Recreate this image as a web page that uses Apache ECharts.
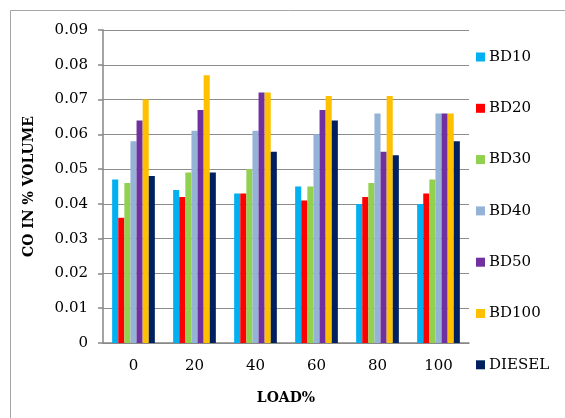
<!DOCTYPE html>
<html><head><meta charset="utf-8">
<script src="https://cdn.jsdelivr.net/npm/echarts@6/dist/echarts.min.js"></script>
<style>html,body{margin:0;padding:0;background:#fff}#c{width:565px;height:418px}</style>
</head><body><div id="c"></div>
<script>
var categories = ['0','20','40','60','80','100'];
var seriesNames = ['BD10','BD20','BD30','BD40','BD50','BD100','DIESEL'];
var BD10   = [0.047, 0.044, 0.043, 0.045, 0.040, 0.040];
var BD20   = [0.036, 0.042, 0.043, 0.041, 0.042, 0.043];
var BD30   = [0.046, 0.049, 0.050, 0.045, 0.046, 0.047];
var BD40   = [0.058, 0.061, 0.061, 0.060, 0.066, 0.066];
var BD50   = [0.064, 0.067, 0.072, 0.067, 0.055, 0.066];
var BD100  = [0.070, 0.077, 0.072, 0.071, 0.071, 0.066];
var DIESEL = [0.048, 0.049, 0.055, 0.064, 0.054, 0.058];
var yTicks = ['0','0.01','0.02','0.03','0.04','0.05','0.06','0.07','0.08','0.09'];
var colors = ['#00b0f0','#ff0000','#92d050','#95b3d7','#7030a0','#ffc000','#002060'];
var allData = [BD10, BD20, BD30, BD40, BD50, BD100, DIESEL];
var font = 'DejaVu Serif';
var chart = echarts.init(document.getElementById('c'), null, {renderer:'canvas'});
chart.setOption({
  animation:false,
  color: colors,
  graphic:[{type:'rect', shape:{x:10.5,y:10.5,width:600,height:500}, style:{fill:null, stroke:'#a6a6a6', lineWidth:1}, silent:true}],
  grid:{left:103, right:96, top:30, bottom:75},
  legend:{
    orient:'vertical', left:471, top:43,
    itemWidth:9, itemHeight:9, itemGap:33.3, icon:'rect',
    textStyle:{fontFamily:font, fontSize:15, color:'#000', lineHeight:18, padding:[0,0,0,-1]},
    data: seriesNames
  },
  xAxis:{
    type:'category', data:categories,
    axisLine:{lineStyle:{color:'#868686', width:1.5}},
    axisTick:{show:false},
    axisLabel:{fontFamily:font, fontSize:15, color:'#000', margin:16},
    name:'LOAD%', nameLocation:'middle', nameGap:48,
    nameTextStyle:{fontFamily:font, fontSize:14, fontWeight:'bold', color:'#000'}
  },
  yAxis:{
    type:'value', min:0, max:0.09, interval:0.01,
    axisLine:{show:true, lineStyle:{color:'#868686', width:1.5}},
    axisTick:{show:true, length:5, lineStyle:{color:'#868686', width:1.5}},
    splitLine:{lineStyle:{color:'#8c8c8c', width:1.2}},
    axisLabel:{fontFamily:font, fontSize:15, color:'#000', margin:15,
      formatter:function(v){ var i=Math.round(v*100); return yTicks[i]; }},
    name:'CO IN % VOLUME', nameLocation:'middle', nameRotate:90, nameGap:67,
    nameTextStyle:{fontFamily:font, fontSize:14, fontWeight:'bold', color:'#000'}
  },
  series: seriesNames.map(function(n,i){
    return {name:n, type:'bar', data:allData[i], barGap:'0%', barCategoryGap:'30%',
      itemStyle:{color:colors[i]}};
  })
});
</script></body></html>
